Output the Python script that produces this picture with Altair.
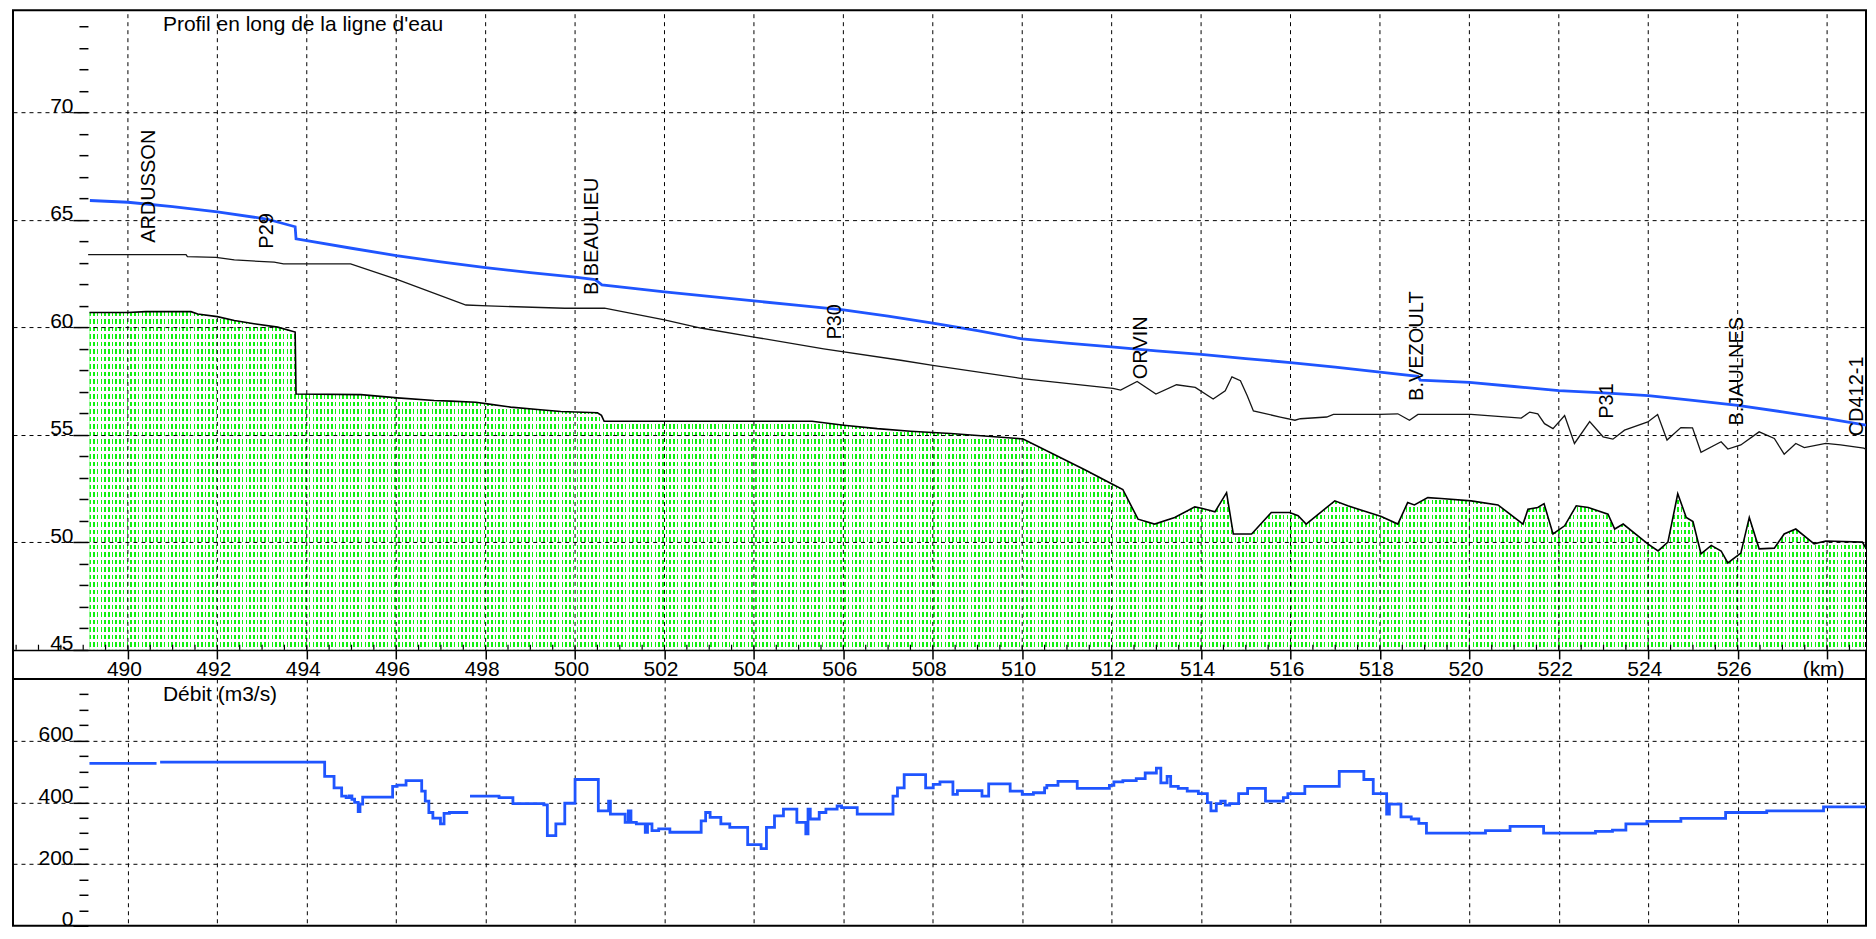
import altair as alt
import pandas as pd

# ---------------- data ----------------
water_km = [489.15, 490.0, 491.0, 492.0, 493.1, 493.74, 493.76, 494.0, 495.0, 496.0, 497.0, 498.0,
            499.0, 500.0, 500.45, 500.6, 501.0, 502.0, 503.0, 504.0, 505.0, 506.0, 507.0, 508.0,
            509.0, 510.0, 511.0, 512.0, 513.0, 514.0, 515.0, 516.0, 517.0, 518.0, 518.85, 518.9,
            520.0, 521.0, 522.0, 523.0, 524.0, 525.0, 526.0, 527.0, 528.0, 529.1]
water_z = [65.90, 65.82, 65.62, 65.37, 65.04, 64.68, 64.12, 64.03, 63.68, 63.34, 63.05, 62.78,
           62.55, 62.34, 62.22, 61.98, 61.88, 61.65, 61.44, 61.23, 61.02, 60.81, 60.52, 60.20,
           59.85, 59.46, 59.27, 59.09, 58.91, 58.74, 58.55, 58.36, 58.15, 57.92, 57.72, 57.55,
           57.44, 57.25, 57.06, 56.95, 56.83, 56.60, 56.37, 56.07, 55.76, 55.37]

bank_km = [489.11, 491.30, 491.33, 491.97, 492.38, 493.27, 493.48, 494.98, 496.03, 497.56, 498.05,
           499.77, 500.66, 502.0, 502.81, 504.0, 505.56, 507.28, 508.0, 510.0, 512.03, 512.2, 512.57,
           512.99, 513.45, 513.87, 514.27, 514.54, 514.69, 514.88, 515.03, 515.17, 515.77, 516.1,
           516.22, 516.81, 516.96, 518.0, 518.4, 518.66, 518.85, 520.04, 521.16, 521.35, 521.53,
           521.68, 521.87, 522.13, 522.35, 522.69, 522.99, 523.21, 523.47, 523.99, 524.21, 524.42,
           524.73, 524.99, 525.18, 525.63, 525.78, 526.07, 526.48, 526.82, 527.04, 527.3, 527.49,
           527.97, 528.3, 528.82, 528.93, 529.05]
bank_z = [63.38, 63.38, 63.29, 63.26, 63.14, 63.03, 62.95, 62.95, 62.22, 61.04, 61.0,
          60.89, 60.89, 60.35, 59.97, 59.55, 59.0, 58.47, 58.23, 57.62, 57.16, 57.08, 57.48,
          56.90, 57.33, 57.21, 56.67, 57.05, 57.70, 57.52, 56.83, 56.11, 55.83, 55.68,
          55.75, 55.83, 55.95, 55.95, 55.98, 55.68, 55.95, 55.95, 55.78, 56.06, 55.98,
          55.52, 55.29, 55.90, 54.60, 55.62, 54.91, 54.80, 55.22, 55.60, 55.95, 54.76,
          55.34, 55.33, 54.19, 54.68, 54.34, 54.53, 55.14, 54.83, 54.10, 54.60, 54.41,
          54.60, 54.53, 54.38, 54.27, 54.53]

bed_km = [489.14, 490.0, 490.4, 491.41, 491.56, 492.0, 492.38, 492.82, 493.35, 493.74, 493.76,
          495.21, 496.03, 496.85, 497.22, 497.78, 498.04, 498.56, 499.16, 499.68, 500.50, 500.59,
          500.65, 505.30, 506.01, 506.76, 507.50, 507.99, 508.40, 510.02, 511.4, 512.03, 512.25,
          512.40, 512.59, 512.96, 513.41, 513.86, 514.01, 514.31, 514.57, 514.72, 515.13, 515.57,
          515.98, 516.17, 516.35, 516.99, 517.28, 518.03, 518.40, 518.62, 518.77, 519.07, 519.37,
          520.04, 520.64, 521.2, 521.31, 521.53, 521.67, 521.87, 522.13, 522.39, 522.66, 523.1,
          523.25, 523.44, 523.99, 524.22, 524.44, 524.66, 524.85, 525.0, 525.18, 525.41, 525.63,
          525.78, 526.07, 526.26, 526.48, 526.82, 527.04, 527.30, 527.71, 527.97, 528.79, 528.93,
          529.05]
bed_z = [60.69, 60.69, 60.73, 60.73, 60.62, 60.50, 60.32, 60.17, 60.01, 59.78, 56.90,
         56.87, 56.72, 56.60, 56.57, 56.52, 56.44, 56.29, 56.18, 56.09, 56.03, 55.91,
         55.63, 55.63, 55.45, 55.29, 55.17, 55.11, 55.06, 54.81, 53.38, 52.69, 52.46,
         51.85, 51.08, 50.85, 51.16, 51.65, 51.59, 51.42, 52.31, 50.39, 50.39, 51.39,
         51.39, 51.24, 50.85, 51.93, 51.70, 51.20, 50.85, 51.85, 51.74, 52.08, 52.04,
         51.93, 51.74, 50.85, 51.54, 51.62, 51.80, 50.39, 50.77, 51.70, 51.62, 51.31,
         50.62, 50.85, 49.93, 49.60, 50.01, 52.26, 51.16, 50.97, 49.47, 49.86, 49.60,
         49.04, 49.50, 51.16, 49.70, 49.73, 50.39, 50.62, 49.93, 50.06, 50.01, 49.50,
         50.78]

station_names = ["ARDUSSON", "P29", "B.BEAULIEU", "P30", "ORVIN", "B.VEZOULT", "P31", "B.JAULNES", "CD412-1"]
station_km = [490.60, 493.24, 500.51, 505.94, 512.80, 518.97, 523.21, 526.12, 528.80]
station_label_z = [63.93, 63.66, 61.50, 59.43, 57.59, 56.58, 55.75, 55.43, 54.93]

panel_titles = ["Profil en long de la ligne d'eau", "Débit (m3/s)"]

# discharge (step-after); None marks a break in the line
q_km = [489.14, 490.64, 490.66,
        490.72, 494.40, 494.61, 494.78, 494.88, 494.95, 495.01, 495.07, 495.15, 495.19, 495.25,
        495.92, 496.02, 496.22, 496.57, 496.65, 496.73, 496.82, 496.99, 497.07, 497.19, 497.61, 497.62,
        497.65, 498.30, 498.61, 499.30, 499.38, 499.57, 499.77, 500.0, 500.52, 500.75, 500.79,
        501.12, 501.19, 501.25, 501.37, 501.57, 501.62, 501.72, 501.87, 502.12, 502.82, 502.92,
        503.02, 503.26, 503.46, 503.86, 504.16, 504.28, 504.46, 504.66, 504.96, 505.16, 505.21,
        505.26, 505.46, 505.61, 505.86, 505.96, 506.31, 507.11, 507.21, 507.36, 507.84, 508.01,
        508.16, 508.45, 508.55, 509.1, 509.25, 509.73, 510.0, 510.25, 510.5, 510.55, 510.8,
        511.23, 511.95, 512.05, 512.25, 512.55, 512.75, 513.0, 513.1, 513.24, 513.32, 513.49,
        513.69, 513.94, 514.14, 514.22, 514.34, 514.44, 514.54, 514.64, 514.84, 515.04, 515.44,
        515.84, 515.94, 516.32, 517.09, 517.64, 517.85, 518.15, 518.21, 518.47, 518.7, 518.87,
        519.04, 520.36, 520.91, 521.66, 522.82, 523.2, 523.5, 523.97, 524.73, 525.73, 526.65,
        527.92, 529.02, 529.1]
q_val = [526, 526, None,
         530, 484, 447, 420, 415, 421, 410, 400, 370, 394, 417,
         452, 456, 470, 436, 404, 367, 349, 330, 364, 367, 367, None,
         420, 415, 396, 392, 292, 330, 397, 474, 372, 404, 362,
         335, 372, 335, 330, 303, 330, 308, 314, 303, 340, 367,
         351, 330, 319, 263, 250, 319, 356, 378, 335, 298, 378,
         346, 367, 378, 388, 383, 362, 420, 447, 490, 447, 458,
         466, 426, 438, 420, 460, 436, 426, 431, 447, 455, 468,
         445, 455, 466, 470, 477, 495, 511, 463, 484, 452, 445,
         436, 428, 399, 372, 396, 404, 391, 396, 428, 445, 404,
         415, 428, 452, 500, 474, 428, 362, 394, 353, 346, 332,
         300, 308, 322, 300, 306, 310, 330, 338, 348, 367, 372,
         385, 396, 396]

x_major = list(range(490, 529, 2))
x_minor = [v / 2 for v in range(975, 1058)]

# ---------------- styling ----------------
FONT = "Liberation Sans"
FS = 21
BLUE = "#1f55ff"
GREEN = "#0ff00f"
CLEAR = "rgba(255,255,255,0)"

X_MIN, X_MAX = 487.43, 528.87
Y_MIN, Y_MAX = 43.65, 74.75
W = 1854
H_TOP = 669
H_BOT = 247

xs = alt.Scale(domain=[X_MIN, X_MAX], nice=False, zero=False)
ys = alt.Scale(domain=[Y_MIN, Y_MAX], nice=False, zero=False)
qs = alt.Scale(domain=[0, 800], nice=False, zero=False)

water = pd.DataFrame({"km": water_km, "z": water_z})
bank = pd.DataFrame({"km": bank_km, "z": bank_z})
bed = pd.DataFrame({"km": bed_km, "z": bed_z})
stations = pd.DataFrame({"name": station_names, "km": station_km, "z": station_label_z})
grid_df = pd.DataFrame({"km": x_major})
minor_df = pd.DataFrame({"km": x_minor})

qdf = pd.DataFrame({"km": q_km, "q": q_val})
qdf["seg"] = qdf["q"].isna().cumsum()
qdf = qdf.dropna().reset_index(drop=True)

# hatch texture (vertical dashed green lines) built as gradient fills
n_h = 480
hstops = []
for i in range(n_h):
    a, b, c = i / n_h, (i + 0.42) / n_h, (i + 1) / n_h
    hstops += [alt.GradientStop(offset=a, color=GREEN), alt.GradientStop(offset=b, color=GREEN),
               alt.GradientStop(offset=b, color=CLEAR), alt.GradientStop(offset=c, color=CLEAR)]
n_v = 45
vstops = []
for i in range(n_v):
    a, b, c = i / n_v, (i + 0.6) / n_v, (i + 1) / n_v
    vstops += [alt.GradientStop(offset=a, color=CLEAR), alt.GradientStop(offset=b, color=CLEAR),
               alt.GradientStop(offset=b, color="white"), alt.GradientStop(offset=c, color="white")]

x_axis_top = alt.Axis(
    values=x_major, orient="bottom", offset=-29, tickSize=9, tickColor="black", tickWidth=1.5,
    domain=True, domainColor="black", domainWidth=1.5, grid=False, labelFont=FONT, labelFontSize=FS,
    labelColor="black", labelPadding=0, labelOffset=-4, labelFlush=False, labelOverlap=False,
    labelExpr="datum.value == 528 ? '(km)' : datum.label", title=None, zindex=1)

y_axis_top = alt.Axis(
    values=list(range(45, 75)), orient="left", offset=-75,
    tickSize={"condition": {"test": "datum.value % 5 === 0", "value": 15}, "value": 9},
    tickColor="black", tickWidth=1.5, domain=False, grid=True, gridColor="black", gridDash=[4, 4],
    gridWidth=1,
    gridOpacity={"condition": {"test": "datum.value % 5 === 0 && datum.value > 45", "value": 1}, "value": 0},
    labelExpr="datum.value % 5 === 0 ? datum.label : ''", labelAlign="right", labelBaseline="alphabetic",
    labelPadding=0, labelFont=FONT, labelFontSize=FS, labelColor="black", labelFlush=False,
    labelOverlap=False, title=None, zindex=1)

X_TOP = alt.X("km:Q", scale=xs, axis=x_axis_top)
Y_TOP = alt.Y("z:Q", scale=ys, axis=y_axis_top)

hatch = alt.Chart(bed).mark_area(
    fill=alt.LinearGradient(gradient="linear", stops=hstops, x1=0, y1=0, x2=1, y2=0), clip=True
).encode(x=X_TOP, y=Y_TOP, y2=alt.Y2Datum(45))

gaps = alt.Chart(bed).mark_area(
    fill=alt.LinearGradient(gradient="linear", stops=vstops, x1=0, y1=0, x2=0, y2=1), clip=True
).encode(x=X_TOP, y=Y_TOP, y2=alt.Y2Datum(45))

vgrid = alt.Chart(grid_df).mark_rule(color="black", strokeDash=[4, 4], strokeWidth=1).encode(
    x=X_TOP, y=alt.YDatum(45, scale=ys, axis=y_axis_top), y2=alt.Y2Datum(Y_MAX))

xminor = alt.Chart(minor_df).mark_rule(color="black", strokeWidth=1.2).encode(
    x=X_TOP, y=alt.YDatum(45, scale=ys, axis=y_axis_top), y2=alt.Y2Datum(45.24))

bank_line = alt.Chart(bank).mark_line(color="#151515", strokeWidth=1.3, clip=True).encode(x=X_TOP, y=Y_TOP)
bed_line = alt.Chart(bed).mark_line(color="black", strokeWidth=1.6, clip=True).encode(x=X_TOP, y=Y_TOP)
water_line = alt.Chart(water).mark_line(color=BLUE, strokeWidth=2.8, clip=True).encode(x=X_TOP, y=Y_TOP)

labels = alt.Chart(stations).mark_text(
    angle=270, align="left", baseline="alphabetic", font=FONT, fontSize=FS - 1, color="black"
).encode(x=X_TOP, y=Y_TOP, text="name:N")

title_top = alt.Chart(pd.DataFrame({"t": [panel_titles[0]]})).mark_text(
    align="left", baseline="alphabetic", font=FONT, fontSize=FS, color="black"
).encode(x=alt.value(150), y=alt.value(21), text="t:N")

upper = alt.layer(hatch, gaps, vgrid, xminor, bank_line, bed_line, water_line, labels, title_top).properties(
    width=W, height=H_TOP)

x_axis_bot = alt.Axis(values=x_major, grid=True, gridColor="black", gridDash=[4, 4], gridWidth=1,
                      ticks=False, labels=False, domain=False, title=None)
y_axis_bot = alt.Axis(
    values=list(range(0, 800, 50)), orient="left", offset=-75,
    tickSize={"condition": {"test": "datum.value % 200 === 0", "value": 15}, "value": 9},
    tickColor="black", tickWidth=1.5, domain=False, grid=True, gridColor="black", gridDash=[4, 4],
    gridWidth=1,
    gridOpacity={"condition": {"test": "datum.value % 200 === 0 && datum.value > 0", "value": 1}, "value": 0},
    labelExpr="datum.value % 200 === 0 ? datum.label : ''", labelAlign="right", labelBaseline="alphabetic",
    labelPadding=0, labelFont=FONT, labelFontSize=FS, labelColor="black", labelFlush=False,
    labelOverlap=False, title=None)

X_BOT = alt.X("km:Q", scale=xs, axis=x_axis_bot)
Y_BOT = alt.Y("q:Q", scale=qs, axis=y_axis_bot)

q_line = alt.Chart(qdf).mark_line(color=BLUE, strokeWidth=2.8, interpolate="step-after", clip=True).encode(
    x=X_BOT, y=Y_BOT, detail="seg:N")

title_bot = alt.Chart(pd.DataFrame({"t": [panel_titles[1]]})).mark_text(
    align="left", baseline="alphabetic", font=FONT, fontSize=FS, color="black"
).encode(x=alt.value(150), y=alt.value(22), text="t:N")

lower = alt.layer(q_line, title_bot).properties(width=W, height=H_BOT)

chart = alt.vconcat(upper, lower, spacing=0, bounds="flush").properties(
    padding={"left": 4, "top": 0, "right": 0, "bottom": 0}
).configure_view(stroke="black", strokeWidth=2)

chart.save("out.html", embed_options={"renderer": "svg", "actions": False})
